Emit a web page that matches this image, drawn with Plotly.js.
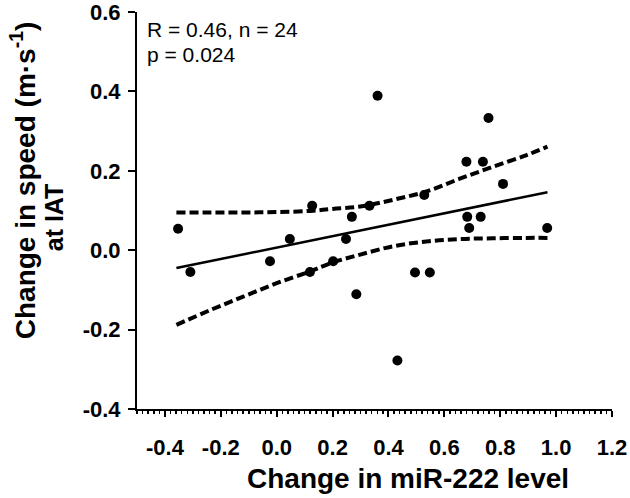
<!DOCTYPE html>
<html>
<head>
<meta charset="utf-8">
<script src="https://cdn.plot.ly/plotly-3.0.1.min.js"></script>
<style>
html,body{margin:0;padding:0;background:#fff;}
#chart{width:630px;height:498px;}
</style>
</head>
<body>
<div id="chart"></div>
<script>
// Scatter data (Change in miR-222 level vs change in speed at IAT)
const mirChange = [-0.353, -0.309, -0.024, 0.047, 0.127, 0.119, 0.202, 0.248, 0.269, 0.285, 0.332, 0.361,
                   0.758, 0.679, 0.738, 0.810, 0.528, 0.682, 0.730, 0.689, 0.968, 0.495, 0.548, 0.432];
const speedChange = [0.054, -0.055, -0.028, 0.028, 0.112, -0.055, -0.028, 0.028, 0.084, -0.111, 0.112, 0.389,
                     0.333, 0.223, 0.223, 0.167, 0.139, 0.084, 0.084, 0.056, 0.056, -0.056, -0.056, -0.278];

// Regression line
const fitX = [-0.359, 0.969];
const fitY = [-0.045, 0.146];

// 95% confidence band
const bandX = [-0.359, -0.235, -0.116, 0.0, 0.121, 0.2, 0.299, 0.417, 0.536, 0.655, 0.773, 0.892, 0.969];
const bandUpper = [0.095, 0.095, 0.095, 0.096, 0.099, 0.104, 0.110, 0.127, 0.148, 0.180, 0.210, 0.239, 0.261];
const bandLower = [-0.188, -0.150, -0.116, -0.083, -0.053, -0.031, -0.011, 0.010, 0.022, 0.028, 0.030, 0.031, 0.031];

// Tick labels
const xTickVals = [-0.4, -0.2, 0.0, 0.2, 0.4, 0.6, 0.8, 1.0, 1.2];
const xTickText = ['-0.4', '-0.2', '0.0', '0.2', '0.4', '0.6', '0.8', '1.0', '1.2'];
const yTickVals = [-0.4, -0.2, 0.0, 0.2, 0.4, 0.6];
const yTickText = ['-0.4', '-0.2', '0.0', '0.2', '0.4', '0.6'];

const statLine1 = 'R = 0.46, n = 24';
const statLine2 = 'p = 0.024';
const xTitle = 'Change in miR-222 level';
const yTitle1 = 'Change in speed (m·s<sup>-1</sup>)';
const yTitle2 = 'at IAT';

const fam = 'Liberation Sans, Arial, Helvetica, sans-serif';

const traces = [
  {x: bandX, y: bandUpper, mode: 'lines', line: {color: 'black', width: 4, dash: '9px,4px', shape: 'spline'}, hoverinfo: 'skip'},
  {x: bandX, y: bandLower, mode: 'lines', line: {color: 'black', width: 4, dash: '9px,4px', shape: 'spline'}, hoverinfo: 'skip'},
  {x: fitX, y: fitY, mode: 'lines', line: {color: 'black', width: 2.5}},
  {x: mirChange, y: speedChange, mode: 'markers', marker: {color: 'black', size: 10}}
];

const layout = {
  width: 630, height: 498,
  margin: {l: 137, r: 18, t: 12, b: 89},
  showlegend: false,
  paper_bgcolor: 'white', plot_bgcolor: 'white',
  xaxis: {
    range: [-0.5, 1.2], tickmode: 'array', tickvals: xTickVals, ticktext: xTickText,
    showgrid: false, zeroline: false,
    showline: true, linecolor: 'black', linewidth: 2,
    ticks: 'outside', ticklen: 6, tickwidth: 2, tickcolor: 'black',
    ticklabelstandoff: 12, ticklabeloverflow: 'allow',
    minor: {dtick: 0.02, tick0: 0, ticks: 'outside', ticklen: 3, tickwidth: 1.5, tickcolor: 'black', showgrid: false},
    tickfont: {family: fam, size: 22, color: 'black', weight: 'bold'}
  },
  yaxis: {
    range: [-0.4, 0.6], tickmode: 'array', tickvals: yTickVals, ticktext: yTickText,
    showgrid: false, zeroline: false,
    showline: true, linecolor: 'black', linewidth: 2,
    ticks: 'outside', ticklen: 7, tickwidth: 2, tickcolor: 'black',
    ticklabelstandoff: 3, ticklabeloverflow: 'allow',
    tickfont: {family: fam, size: 22, color: 'black', weight: 'bold'}
  },
  annotations: [
    {xref: 'paper', yref: 'paper', x: 0.0168, y: 0.957, xanchor: 'left', yanchor: 'middle', showarrow: false,
     text: statLine1, font: {family: fam, size: 21, color: 'black'}},
    {xref: 'paper', yref: 'paper', x: 0.0168, y: 0.892, xanchor: 'left', yanchor: 'middle', showarrow: false,
     text: statLine2, font: {family: fam, size: 21, color: 'black'}},
    {xref: 'paper', yref: 'paper', x: 0.571, y: -0.174, xanchor: 'center', yanchor: 'middle', showarrow: false,
     text: xTitle, font: {family: fam, size: 28, color: 'black', weight: 'bold'}},
    {xref: 'paper', yref: 'paper', x: -0.241, y: 0.575, xanchor: 'center', yanchor: 'middle', showarrow: false, textangle: -90,
     text: yTitle1, font: {family: fam, size: 28, color: 'black', weight: 'bold'}},
    {xref: 'paper', yref: 'paper', x: -0.176, y: 0.484, xanchor: 'center', yanchor: 'middle', showarrow: false, textangle: -90,
     text: yTitle2, font: {family: fam, size: 25, color: 'black', weight: 'bold'}}
  ]
};

Plotly.newPlot('chart', traces, layout, {staticPlot: true, displayModeBar: false});
</script>
</body>
</html>
